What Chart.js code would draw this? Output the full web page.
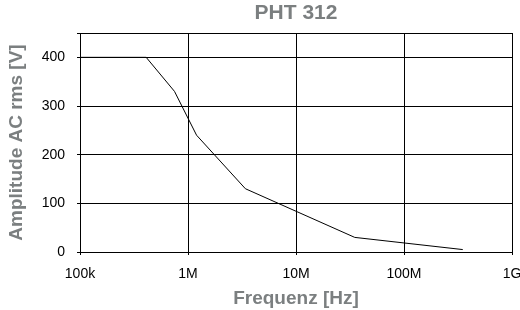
<!DOCTYPE html>
<html>
<head>
<meta charset="utf-8">
<script src="https://cdn.jsdelivr.net/npm/chart.js@4/dist/chart.umd.min.js"></script>
<style>
  body { margin: 0; background: #fff; }
</style>
</head>
<body>
<canvas id="chart" width="520" height="310"></canvas>
<script>
// PHT 312 - Amplitude vs. Frequenz

const freqs = [1e5, 4.1e5, 7.5e5, 1.2e6, 3.4e6, 3.5e7, 3.5e8];
const volts = [400, 400, 330, 240, 130, 30, 5];

const xTicks = [1e5, 1e6, 1e7, 1e8, 1e9];
const xLabels = ["100k", "1M", "10M", "100M", "1G"];
const yTicks = [0, 100, 200, 300, 400, 450];
const yLabels = ["0", "100", "200", "300", "400", ""];

const grey = "#7b7f80";
const fontFamily = '"Liberation Sans", Arial, sans-serif';

// title centred over the plot area, not the canvas
const plotTitle = {
    id: "plotTitle",
    afterDraw(chart) {
        const { ctx, chartArea } = chart;
        ctx.save();
        ctx.font = "bold 21px " + fontFamily;
        ctx.fillStyle = grey;
        ctx.textAlign = "center";
        ctx.textBaseline = "middle";
        ctx.fillText("PHT 312", (chartArea.left + chartArea.right) / 2, 13);
        ctx.restore();
    },
};

new Chart(document.getElementById("chart"), {
    type: "line",
    data: {
        datasets: [
            {
                label: "PHT 312",
                data: freqs.map((f, i) => ({ x: f, y: volts[i] })),
                borderColor: "#000",
                borderWidth: 1,
                pointRadius: 0,
                tension: 0,
                fill: false,
            },
        ],
    },
    options: {
        responsive: false,
        animation: false,
        layout: { padding: { top: 33, right: 8, left: 0, bottom: 0 } },
        plugins: {
            legend: { display: false },
            tooltip: { enabled: false },
        },
        scales: {
            x: {
                type: "logarithmic",
                min: 1e5,
                max: 1e9,
                afterBuildTicks: (s) => {
                    s.ticks = xTicks.map((v) => ({ value: v }));
                },
                afterFit: (s) => {
                    s.height = 58;
                    // only the half width of the "1G" label overhangs
                    s.paddingRight = 8;
                },
                ticks: {
                    color: "#000",
                    font: { family: fontFamily, size: 14 },
                    padding: 11,
                    maxRotation: 0,
                    autoSkip: false,
                    callback: (v) => xLabels[xTicks.indexOf(v)] ?? "",
                },
                grid: { color: "#000", lineWidth: 1, tickLength: 3 },
                border: { color: "#000", width: 1 },
                title: {
                    display: true,
                    text: "Frequenz [Hz]",
                    color: grey,
                    font: { family: fontFamily, size: 19, weight: "bold" },
                    padding: { top: 0, bottom: 0 },
                },
            },
            y: {
                min: 0,
                max: 450,
                afterBuildTicks: (s) => {
                    s.ticks = yTicks.map((v) => ({ value: v }));
                },
                afterFit: (s) => {
                    s.width = 80;
                },
                ticks: {
                    color: "#000",
                    font: { family: fontFamily, size: 14 },
                    padding: 12,
                    autoSkip: false,
                    callback: (v) => yLabels[yTicks.indexOf(v)] ?? "",
                },
                grid: { color: "#000", lineWidth: 1, tickLength: 3 },
                border: { color: "#000", width: 1 },
                title: {
                    display: true,
                    text: "Amplitude AC rms [V]",
                    color: grey,
                    font: { family: fontFamily, size: 19, weight: "bold" },
                    padding: { top: 5, bottom: 0 },
                },
            },
        },
    },
    plugins: [plotTitle],
});
</script>
</body>
</html>
